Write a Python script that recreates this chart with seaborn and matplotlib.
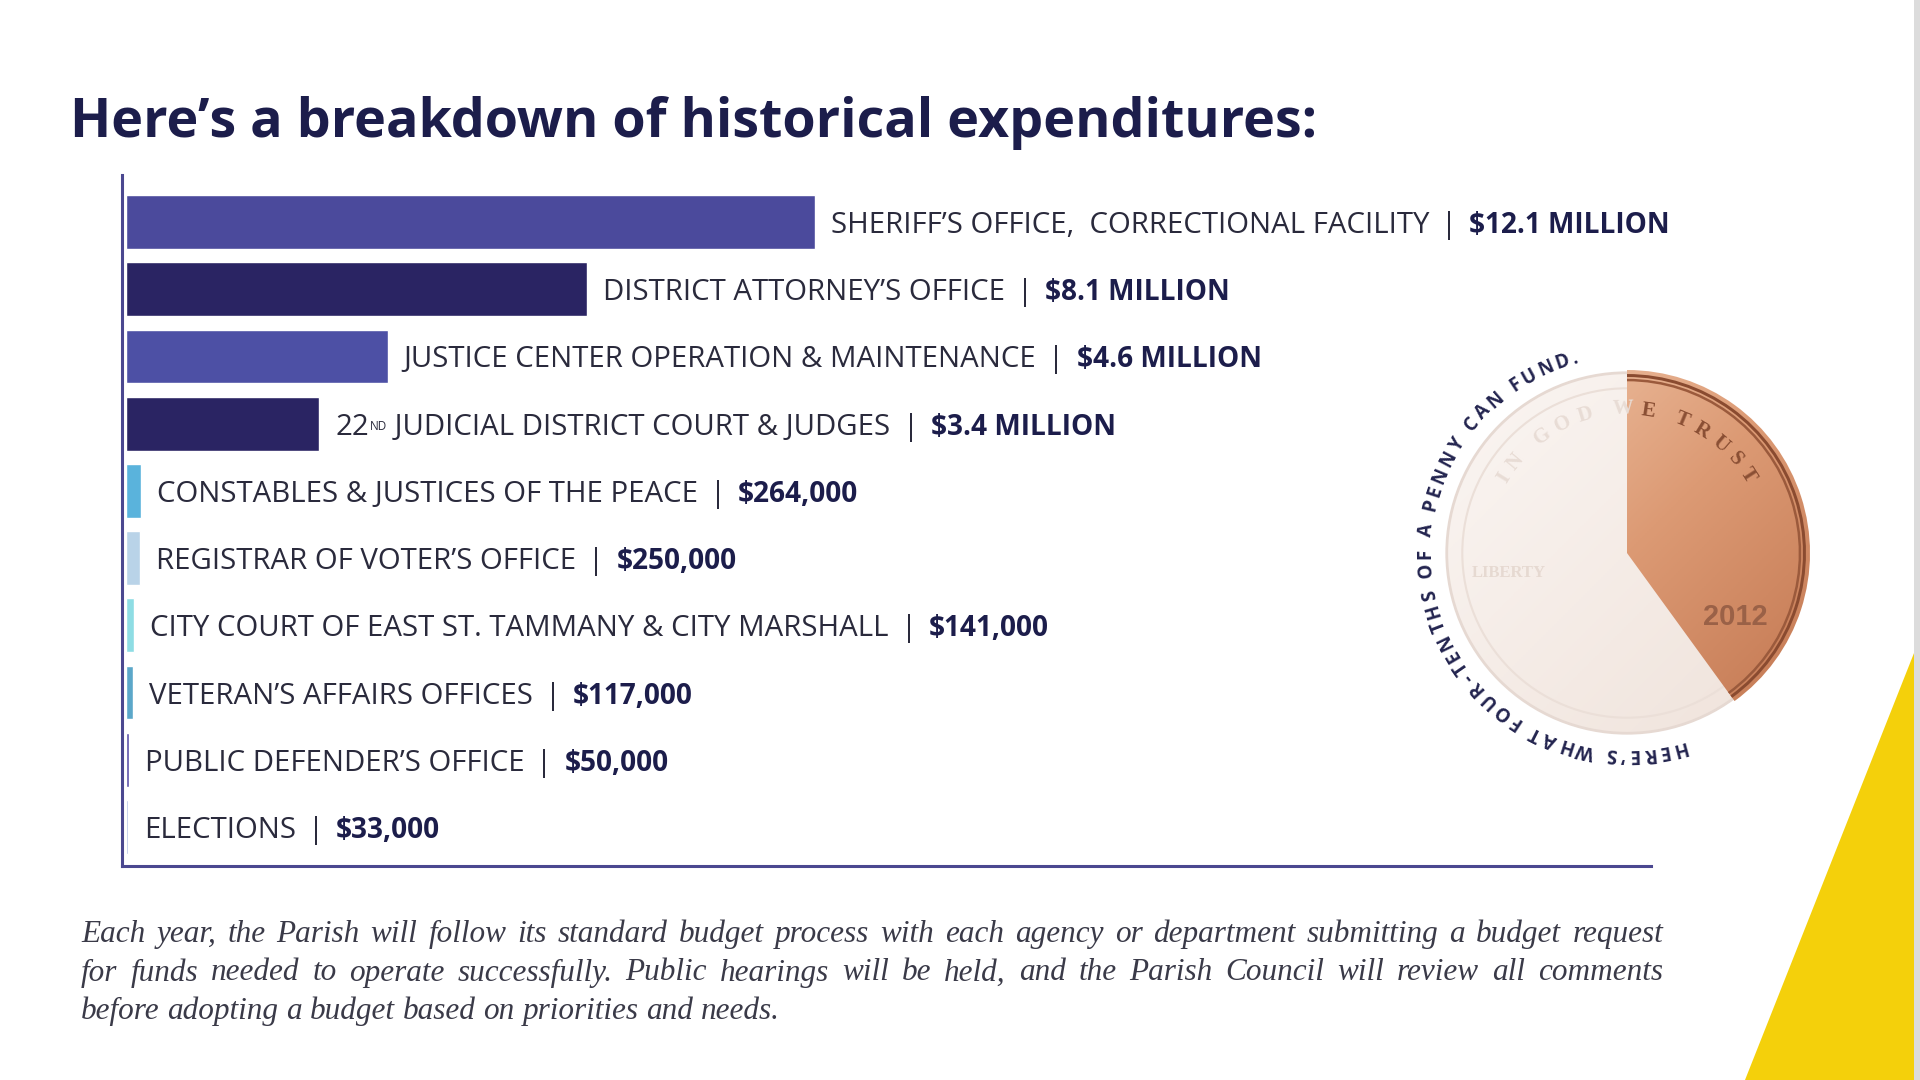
import numpy as np
import pandas as pd
import matplotlib
matplotlib.use("Agg")
import matplotlib.pyplot as plt
import seaborn as sns
from matplotlib.font_manager import FontProperties
from matplotlib.patches import Circle, Wedge, Polygon, Rectangle
from matplotlib.colors import LinearSegmentedColormap

# data
departments = [
    "SHERIFF\u2019S OFFICE,  CORRECTIONAL FACILITY",
    "DISTRICT ATTORNEY\u2019S OFFICE",
    "JUSTICE CENTER OPERATION & MAINTENANCE",
    "22ND JUDICIAL DISTRICT COURT & JUDGES",
    "CONSTABLES & JUSTICES OF THE PEACE",
    "REGISTRAR OF VOTER\u2019S OFFICE",
    "CITY COURT OF EAST ST. TAMMANY & CITY MARSHALL",
    "VETERAN\u2019S AFFAIRS OFFICES",
    "PUBLIC DEFENDER\u2019S OFFICE",
    "ELECTIONS",
]
amounts = [12_100_000, 8_100_000, 4_600_000, 3_400_000, 264_000,
           250_000, 141_000, 117_000, 50_000, 33_000]
amount_labels = ["$12.1 MILLION", "$8.1 MILLION", "$4.6 MILLION", "$3.4 MILLION",
                 "$264,000", "$250,000", "$141,000", "$117,000", "$50,000", "$33,000"]
bar_colors = ["#4b4a9c", "#2a2463", "#4d50a5", "#2a2463", "#5ab3dc",
              "#b9d3e8", "#8edde4", "#5ba7c9", "#5a4fa8", "#a9b7e2"]

title = "Here\u2019s a breakdown of historical expenditures:"
note_lines = [
    "Each year, the Parish will follow its standard budget process with each agency or department submitting a budget request",
    "for funds needed to operate successfully. Public hearings will be held, and the Parish Council will review all comments",
    "before adopting a budget based on priorities and needs.",
]
penny_caption = "HERE\u2019S WHAT FOUR-TENTHS OF A PENNY CAN FUND."
penny_share = 0.4

sns.set_theme(style="white")
plt.rcParams["font.family"] = ["Open Sans", "DejaVu Sans"]

NAVY = "#1c1d4b"
TXT = "#2a2a3c"
LABEL_FONT = ["Open Sans", "DejaVu Sans"]
LABEL_SIZE = 21.2
BOLD_SIZE = 20.2

fig = plt.figure(figsize=(19.2, 10.8), dpi=100)
fig.patch.set_facecolor("white")

# background overlay in pixel coords
ov = fig.add_axes([0, 0, 1, 1], zorder=0)
ov.axis("off")

# chart
ax = fig.add_axes([122 / 1920, 1 - 866 / 1080, (1651 - 122) / 1920, (866 - 175) / 1080], zorder=2)
ax.patch.set_alpha(0)
df = pd.DataFrame({"dept": departments, "amount": amounts})
sns.barplot(data=df, x="amount", y="dept", hue="dept", palette=bar_colors,
            legend=False, orient="h", width=0.8, saturation=1, ax=ax)
ax.set_xlim(-70_000, 26.8e6)
ax.set_ylim(9.58, -0.70)
ax.set_xticks([])
ax.set_yticks([])
ax.set_xlabel("")
ax.set_ylabel("")
for s in ["top", "right"]:
    ax.spines[s].set_visible(False)
for s in ["left", "bottom"]:
    ax.spines[s].set_color("#4b4890")
    ax.spines[s].set_linewidth(2.2)


def amount_part(first, lab):
    # separator bar, then the bold amount
    bar = ax.annotate("|", xy=(1, 0), xycoords=first, xytext=(12, 0),
                      textcoords="offset pixels", va="bottom", ha="left",
                      fontsize=LABEL_SIZE, color=TXT, family=LABEL_FONT)
    ax.annotate(lab.replace("$", r"\$"), xy=(1, 0), xycoords=(bar, first),
                xytext=(12, 0), textcoords="offset pixels", va="bottom", ha="left",
                fontsize=BOLD_SIZE, fontweight="bold", color=NAVY, family=LABEL_FONT)


for i, (dept, val, lab) in enumerate(zip(departments, amounts, amount_labels)):
    if dept.startswith("22ND"):
        t22 = ax.annotate("22", xy=(val, i), xytext=(16, 0), textcoords="offset pixels",
                          va="center_baseline", ha="left", fontsize=LABEL_SIZE,
                          color=TXT, family=LABEL_FONT)
        nd = ax.annotate("ND", xy=(1, 1), xycoords=t22, xytext=(1, -7),
                         textcoords="offset pixels", va="top", ha="left",
                         fontsize=8.5, color=TXT, family=LABEL_FONT)
        rest = ax.annotate(dept[4:], xy=(1, 0), xycoords=(nd, t22),
                           va="bottom", ha="left", fontsize=LABEL_SIZE, color=TXT,
                           family=LABEL_FONT)
        amount_part(rest, lab)
    else:
        t = ax.annotate(dept, xy=(val, i), xytext=(16, 0),
                        textcoords="offset pixels", va="center_baseline", ha="left",
                        fontsize=LABEL_SIZE, color=TXT, family=LABEL_FONT)
        amount_part(t, lab)

# title
ov.text(70, 116, title, fontsize=38.8, fontweight="bold", color=NAVY,
        va="center_baseline", ha="left", family=["Open Sans", "DejaVu Sans"])

renderer = fig.canvas.get_renderer()


def text_w(s, fp):
    w1 = renderer.get_text_width_height_descent("H" + s + "H", fp, ismath=False)[0]
    w0 = renderer.get_text_width_height_descent("HH", fp, ismath=False)[0]
    return w1 - w0


# penny
cx, cy, R = 1627, 553, 183
split = 90 - 360 * penny_share
yy, xx = np.mgrid[0:1:200j, 0:1:200j]
grad = (xx + yy) / 2

pale = Circle((cx, cy), R * 0.985, facecolor="none", edgecolor="#e6d9d2", lw=2, zorder=3)
ov.add_patch(pale)
im1 = ov.imshow(grad, cmap=LinearSegmentedColormap.from_list("pale", ["#fbf6f3", "#efe2da"]),
                extent=(cx - R, cx + R, cy + R, cy - R), zorder=2, aspect="auto")
im1.set_clip_path(pale)
ov.add_patch(Circle((cx, cy), R * 0.9, facecolor="none", edgecolor="#ebdfd8",
                    lw=1.5, zorder=3))

copper = Wedge((cx, cy), R, -90, -split, facecolor="none", edgecolor="none", zorder=3)
ov.add_patch(copper)
im2 = ov.imshow(grad, cmap=LinearSegmentedColormap.from_list("cu", ["#f2c9ad", "#dc9a74", "#c27650"]),
                extent=(cx - R, cx + R, cy + R, cy - R), zorder=3, aspect="auto")
im2.set_clip_path(copper)
ov.add_patch(Wedge((cx, cy), R * 0.978, -90, -split, width=3,
                   facecolor="#8a4b30", edgecolor="none", zorder=4))
ov.add_patch(Wedge((cx, cy), R * 0.952, -90, -split, width=2.5,
                   facecolor="#9b5a3c", edgecolor="none", zorder=4))
ov.text(cx + 108, cy + 64, "2012", fontsize=21, fontweight="bold", color="#9a6147",
        ha="center", va="center", family=["Liberation Sans"], zorder=5)


def curved(s, r, a0, a1, fp, color_fn, z=5):
    widths = [text_w(c, fp) for c in s]
    arc = abs(np.radians(a1 - a0)) * r
    track = (arc - sum(widths)) / (len(s) - 1)
    pos = 0.0
    for c, w in zip(s, widths):
        mid = pos + w / 2
        th = a0 - np.degrees(mid / r)
        x = cx + r * np.cos(np.radians(th))
        y = cy - r * np.sin(np.radians(th))
        ov.text(x, y, c, fontproperties=fp, color=color_fn(th), rotation=th - 90,
                ha="center", va="center_baseline", rotation_mode="anchor", zorder=z)
        pos += w + track


cap_fp = FontProperties(family=["Open Sans", "DejaVu Sans"], weight="bold", size=13.5)
curved(penny_caption, 204, -73, -256, cap_fp, lambda th: "#23244f")

motto_fp = FontProperties(family=["Liberation Serif"], weight="bold", size=15)
curved("IN GOD WE TRUST", R * 0.8, 150, 30, motto_fp,
       lambda th: "#e8dcd5" if th > 90 else "#8a4f34")
ov.text(cx - 118, cy + 20, "LIBERTY", fontsize=12, fontweight="bold",
        color="#e6d9d1", ha="center", va="center", family=["Liberation Serif"],
        zorder=5)

# justified note paragraph
note_fp = FontProperties(family=["Liberation Serif"], style="italic", size=22.5)
note_left, note_right = 81, 1663
for k, line in enumerate(note_lines):
    y = 931 + k * 38.5
    words = line.split(" ")
    widths = [text_w(w, note_fp) for w in words]
    if k < len(note_lines) - 1:
        gap = (note_right - note_left - sum(widths)) / (len(words) - 1)
    else:
        gap = text_w(" ", note_fp)
    x = note_left
    for w, wd in zip(words, widths):
        ov.text(x, y, w, fontproperties=note_fp, color="#3a3a48",
                va="center_baseline", ha="left")
        x += wd + gap

# yellow corner
ov.add_patch(Polygon([(1916, 648), (1745, 1080), (1920, 1080), (1920, 648)],
                     closed=True, color="#f4d00b", lw=0, zorder=1))
ov.add_patch(Rectangle((1914, 0), 6, 1080, color="#dcdcdc", lw=0, zorder=2))

ov.set_xlim(0, 1920)
ov.set_ylim(1080, 0)

fig.savefig("out.png", dpi=100, facecolor="white")
